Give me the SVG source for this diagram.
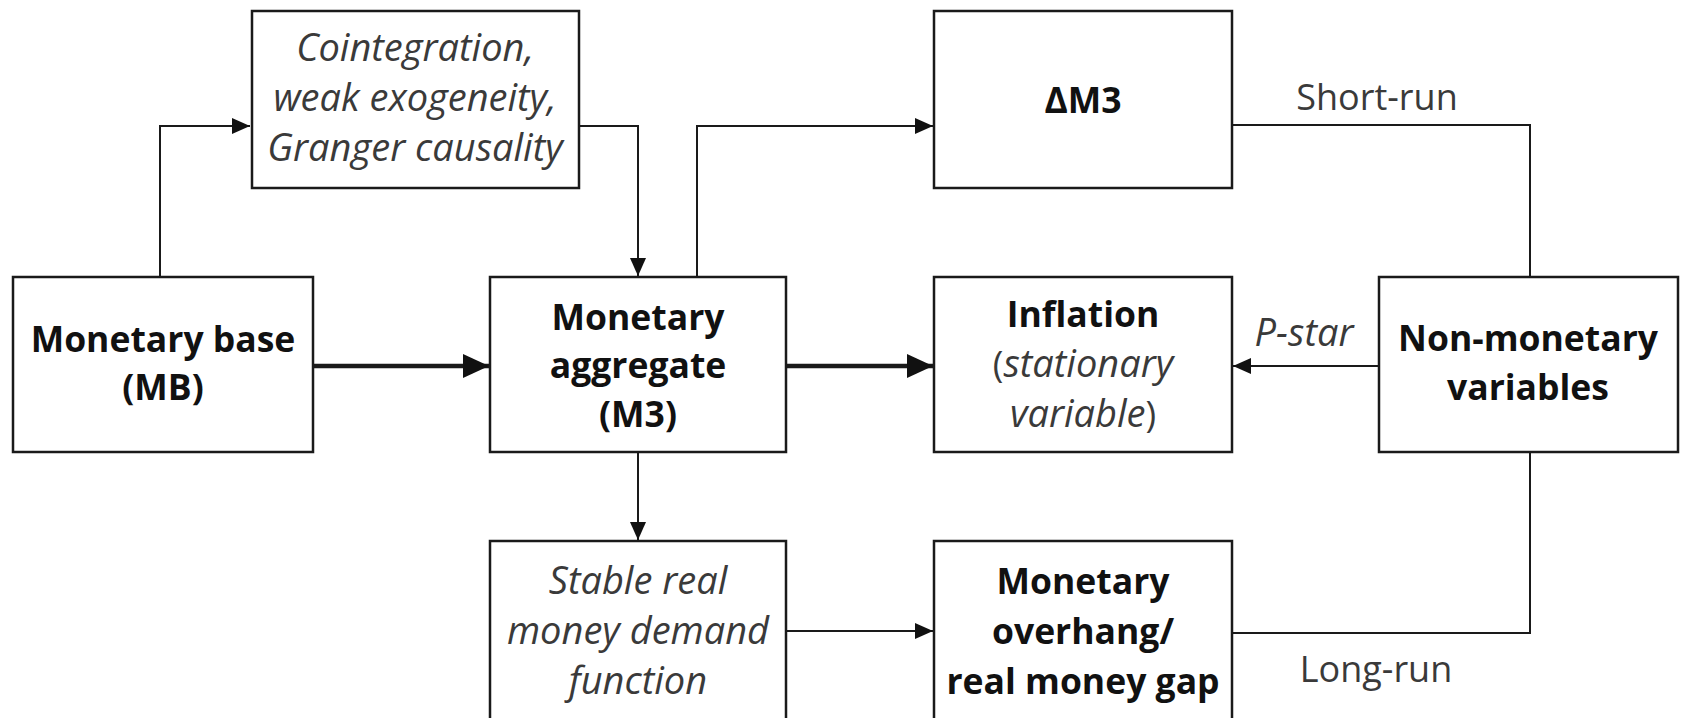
<svg xmlns="http://www.w3.org/2000/svg" width="1681" height="718" viewBox="0 0 1681 718">
<defs>
<style>
.box{fill:#fff;stroke:#1a1a1a;stroke-width:2.5}
.ln{fill:none;stroke:#1a1a1a;stroke-width:2}
.thick{fill:none;stroke:#1a1a1a;stroke-width:4.5}
text{font-family:"Open Sans","Noto Sans",sans-serif;font-size:36px;text-anchor:middle}
.b{font-weight:bold;fill:#111;font-size:35.5px}
.i{font-style:italic;fill:#3a3a3a;font-size:38px}
.r{fill:#3a3a3a}
</style>
<marker id="ah" markerUnits="userSpaceOnUse" markerWidth="20" markerHeight="18" refX="18" refY="8" orient="auto">
<path d="M0,0 L18,8 L0,16 Z" fill="#111"/>
</marker>
<marker id="ahb" markerUnits="userSpaceOnUse" markerWidth="28" markerHeight="26" refX="26" refY="12" orient="auto">
<path d="M0,0 L26,12 L0,24 Z" fill="#111"/>
</marker>
</defs>
<rect width="1681" height="718" fill="#fff"/>

<g id="connectors">
<path class="ln" d="M160,277 V126 H250" marker-end="url(#ah)"/>
<path class="ln" d="M579,126 H638 V276" marker-end="url(#ah)"/>
<path class="ln" d="M697,277 V126 H933" marker-end="url(#ah)"/>
<path class="ln" d="M1232,125 H1530 V277"/>
<path class="ln" d="M1379,366 H1233" marker-end="url(#ah)"/>
<path class="ln" d="M638,452 V540" marker-end="url(#ah)"/>
<path class="ln" d="M786,631 H933" marker-end="url(#ah)"/>
<path class="ln" d="M1232,633 H1530 V452"/>
<path class="thick" d="M313,366 H489" marker-end="url(#ahb)"/>
<path class="thick" d="M786,366 H933" marker-end="url(#ahb)"/>
<text class="r" x="1377" y="110">Short-run</text>
<text class="i" x="1304" y="346">P-star</text>
<text class="r" x="1376" y="682">Long-run</text>
</g>

<g id="mb">
<rect class="box" x="13" y="277" width="300" height="175"/>
<text class="b" x="163" y="352">Monetary base</text>
<text class="b" x="163" y="400">(MB)</text>
</g>

<g id="coint">
<rect class="box" x="252" y="11" width="327" height="177"/>
<text class="i" x="415" y="61">Cointegration,</text>
<text class="i" x="415" y="111">weak exogeneity,</text>
<text class="i" x="415" y="161">Granger causality</text>
</g>

<g id="m3">
<rect class="box" x="490" y="277" width="296" height="175"/>
<text class="b" x="638" y="330">Monetary</text>
<text class="b" x="638" y="378">aggregate</text>
<text class="b" x="638" y="427">(M3)</text>
</g>

<g id="dm3">
<rect class="box" x="934" y="11" width="298" height="177"/>
<text class="b" x="1083" y="113">ΔM3</text>
</g>

<g id="inflation">
<rect class="box" x="934" y="277" width="298" height="175"/>
<text class="b" x="1083" y="327">Inflation</text>
<text class="r" x="1083" y="377">(<tspan class="i">stationary</tspan></text>
<text class="r" x="1083" y="427"><tspan class="i">variable</tspan>)</text>
</g>

<g id="nonmon">
<rect class="box" x="1379" y="277" width="299" height="175"/>
<text class="b" x="1528" y="351">Non-monetary</text>
<text class="b" x="1528" y="400">variables</text>
</g>

<g id="stable">
<rect class="box" x="490" y="541" width="296" height="200"/>
<text class="i" x="638" y="594">Stable real</text>
<text class="i" x="638" y="644">money demand</text>
<text class="i" x="638" y="694">function</text>
</g>

<g id="overhang">
<rect class="box" x="934" y="541" width="298" height="200"/>
<text class="b" x="1083" y="594">Monetary</text>
<text class="b" x="1083" y="644">overhang/</text>
<text class="b" x="1083" y="694">real money gap</text>
</g>
</svg>
